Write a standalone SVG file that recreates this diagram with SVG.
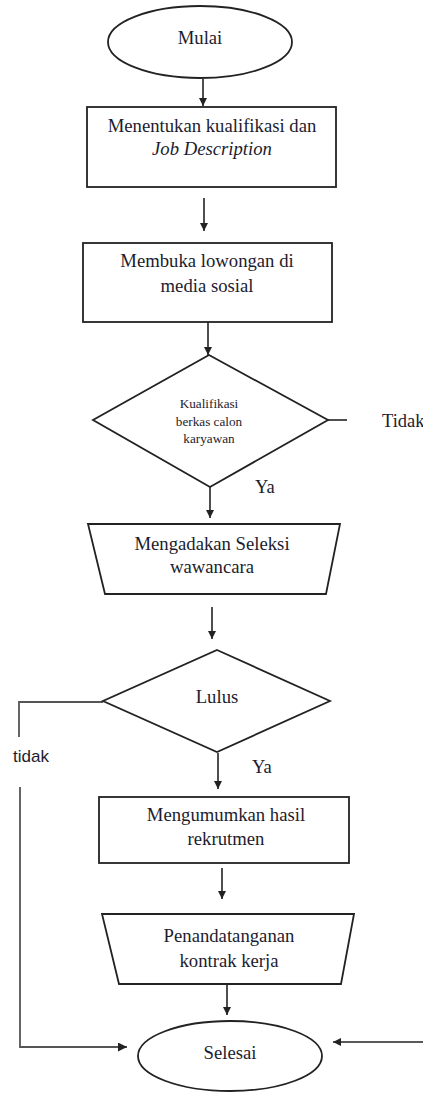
<svg xmlns="http://www.w3.org/2000/svg" width="423" height="1093" viewBox="0 0 423 1093">
<style>
.shape{fill:#fff;stroke:#222;stroke-width:1.8}
.t{font-family:"Liberation Serif","Times New Roman",serif;font-size:18.7px;fill:#1c1c2e;text-anchor:middle}
.s{font-family:"Liberation Serif","Times New Roman",serif;font-size:13.2px;fill:#1c1c2e;text-anchor:middle}
.lbl{font-family:"Liberation Serif","Times New Roman",serif;font-size:18.5px;fill:#1c1c2e}
.sans{font-family:"Liberation Sans",Arial,sans-serif;font-size:17px;fill:#1c1c2e}
.c{fill:none;stroke:#222;stroke-width:1.6}
.g{fill:none;stroke:#555;stroke-width:1.8}
</style>
<defs>
<marker id="ah" viewBox="0 0 10 10" refX="10" refY="5" markerWidth="5" markerHeight="5" orient="auto" markerUnits="strokeWidth">
<path d="M0,0 L10,5 L0,10 z" fill="#222"/>
</marker>
</defs>
<g id="connectors">
<line class="c" x1="203" y1="79" x2="203" y2="106" marker-end="url(#ah)"/>
<line class="c" x1="204" y1="198" x2="204" y2="231" marker-end="url(#ah)"/>
<line class="c" x1="208" y1="322" x2="208" y2="355" marker-end="url(#ah)"/>
<line class="c" x1="328" y1="420" x2="347" y2="420"/>
<line class="c" x1="210" y1="487" x2="210" y2="518" marker-end="url(#ah)"/>
<line class="c" x1="212" y1="607" x2="212" y2="639" marker-end="url(#ah)"/>
<polyline class="g" points="103,702 19,702 19,737"/>
<polyline class="g" points="20,787 20,1047 127,1047" marker-end="url(#ah)"/>
<line class="c" x1="218" y1="753" x2="218" y2="789" marker-end="url(#ah)"/>
<line class="c" x1="222" y1="868" x2="222" y2="899" marker-end="url(#ah)"/>
<line class="c" x1="227" y1="984" x2="227" y2="1015" marker-end="url(#ah)"/>
<line class="c" x1="423" y1="1042" x2="333" y2="1042" marker-end="url(#ah)"/>
</g>
<g id="mulai">
<ellipse class="shape" cx="200" cy="42" rx="92" ry="36"/>
<text class="t" x="200" y="44">Mulai</text>
</g>
<g id="menentukan">
<rect class="shape" x="87" y="107" width="249" height="80"/>
<text class="t" x="212" y="132">Menentukan kualifikasi dan</text>
<text class="t" x="212" y="155" font-style="italic">Job Description</text>
</g>
<g id="membuka">
<rect class="shape" x="83" y="243" width="249" height="79"/>
<text class="t" x="207" y="267">Membuka lowongan di</text>
<text class="t" x="207" y="292">media sosial</text>
</g>
<g id="kualifikasi">
<polygon class="shape" points="209,355 328,420 210,487 93,420"/>
<text class="s" x="209" y="408">Kualifikasi</text>
<text class="s" x="209" y="426">berkas calon</text>
<text class="s" x="209" y="443">karyawan</text>
</g>
<g id="label-tidak1"><text class="lbl" x="382" y="427">Tidak</text></g>
<g id="label-ya1"><text class="lbl" x="255" y="493">Ya</text></g>
<g id="seleksi">
<polygon class="shape" points="88,524 340,524 326,594 105,594"/>
<text class="t" x="212" y="550">Mengadakan Seleksi</text>
<text class="t" x="212" y="573">wawancara</text>
</g>
<g id="lulus">
<polygon class="shape" points="217,650 330,701 217,752 103,701"/>
<text class="t" x="217" y="703">Lulus</text>
</g>
<g id="label-tidak2"><text class="sans" x="13" y="762">tidak</text></g>
<g id="label-ya2"><text class="lbl" x="252" y="773">Ya</text></g>
<g id="mengumumkan">
<rect class="shape" x="99" y="797" width="250" height="66"/>
<text class="t" x="226" y="821">Mengumumkan hasil</text>
<text class="t" x="226" y="845">rekrutmen</text>
</g>
<g id="penandatanganan">
<polygon class="shape" points="102,914 354,914 341,984 119,984"/>
<text class="t" x="229" y="942">Penandatanganan</text>
<text class="t" x="229" y="967">kontrak kerja</text>
</g>
<g id="selesai">
<ellipse class="shape" cx="230" cy="1056" rx="92" ry="35"/>
<text class="t" x="230" y="1059">Selesai</text>
</g>
</svg>
